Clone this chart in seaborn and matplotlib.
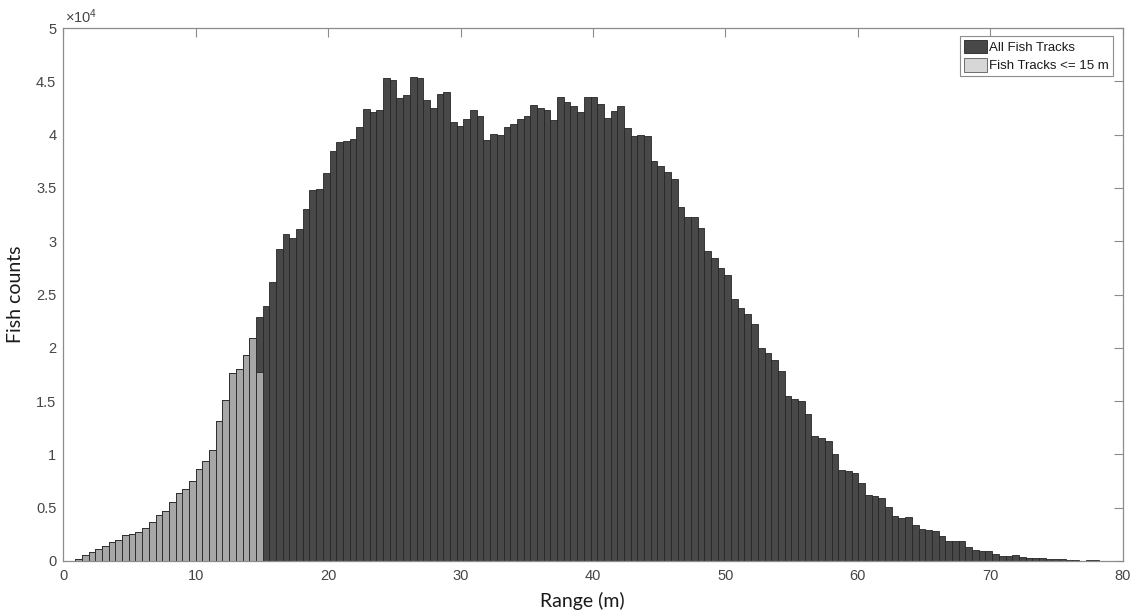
import numpy as np
import pandas as pd
import matplotlib
matplotlib.use("Agg")
import matplotlib.pyplot as plt
from matplotlib.patches import Patch
import seaborn as sns

# Histogram bins (range, m)
bin_start = 0.9
bin_width = 0.5054
n_bins = 153

# Counts per bin, all fish tracks
all_counts = [
    220, 530, 850, 1100, 1400, 1800, 2000, 2400, 2500, 2700,
    3100, 3700, 4300, 4700, 5500, 6400, 6800, 7500, 8600, 9400,
    10400, 13100, 15100, 17600, 18000, 19300, 20900, 22900,
    23900, 26200, 29300, 30700, 30300, 31100, 33000, 34800, 34900, 36400,
    38500, 39300, 39400, 39600, 40700, 42400, 42100, 42300, 45300, 45100,
    43400, 43700, 45400, 45300, 43200, 42500, 43800, 44000, 41200, 40800,
    41500, 42300, 41700, 39500, 40100, 40000,
    40700, 41000, 41500, 41700, 42800, 42500, 42300, 41400, 43500, 43100,
    42700, 42100, 43500, 43500, 42900, 41600, 42200, 42700, 40600, 39900,
    40000, 39900, 37500, 37100, 36500, 35800, 33200, 32300, 32300, 31200,
    29100, 28400, 27500,
    26800, 24600, 23700, 23200, 22200, 20000, 19500, 18900, 17800, 15500,
    15200, 15000, 13800, 11700, 11500, 11300, 10000, 8500, 8400, 8300,
    7300, 6200, 6100, 5900, 5100, 4200, 4000, 4100, 3400, 3000,
    2900, 2800, 2300, 1900, 1900, 1900, 1300, 1000, 900, 900,
    700, 500, 500, 600, 400, 300, 300, 300, 200, 150,
    150, 120, 60, 30, 90, 90,
]

# Counts per bin, tracks with range <= 15 m
near_counts = [
    220, 530, 850, 1100, 1400, 1800, 2000, 2400, 2500, 2700,
    3100, 3700, 4300, 4700, 5500, 6400, 6800, 7500, 8600, 9400,
    10400, 13100, 15100, 17600, 18000, 19300, 20900, 17700,
]

series_labels = ["All Fish Tracks", "Fish Tracks <= 15 m"]
x_ticks = list(range(0, 81, 10))
y_ticks = list(range(0, 50001, 5000))
y_tick_labels = ["0", "0.5", "1", "1.5", "2", "2.5", "3", "3.5", "4", "4.5", "5"]

edges = bin_start + bin_width * np.arange(n_bins + 1)
centers = (edges[:-1] + edges[1:]) / 2

all_df = pd.DataFrame({"range": centers, "count": all_counts})
near_df = pd.DataFrame({"range": centers[:len(near_counts)], "count": near_counts})

sns.set_style("white")
plt.rcParams["font.family"] = ["Liberation Sans", "DejaVu Sans"]
plt.rcParams["mathtext.default"] = "regular"

W, H = 1139, 614
fig = plt.figure(figsize=(W / 100, H / 100), dpi=100)
left, right, top, bottom = 63.3, 1122.7, 28.0, 561.0
ax = fig.add_axes([left / W, 1 - bottom / H, (right - left) / W, (bottom - top) / H])

dark_face = "#484848"
light_face = "#c9c9c9"
light_alpha = 0.74
edge_col = "#262626"

sns.histplot(data=all_df, x="range", weights="count", bins=list(edges), ax=ax,
             color=dark_face, alpha=1.0, edgecolor=edge_col, linewidth=0.6)
sns.histplot(data=near_df, x="range", weights="count",
             bins=list(edges[:len(near_counts) + 1]), ax=ax,
             color=light_face, alpha=light_alpha, edgecolor=edge_col, linewidth=0.6)

ax.set_xlim(0, 80)
ax.set_ylim(0, 50000)
ax.set_xticks(x_ticks)
ax.set_xticklabels([str(t) for t in x_ticks])
ax.set_yticks(y_ticks)
ax.set_yticklabels(y_tick_labels)

axis_col = "#8c8c8c"
for s in ax.spines.values():
    s.set_visible(True)
    s.set_color(axis_col)
    s.set_linewidth(0.9)
ax.tick_params(direction="in", top=True, right=True, length=6.5, width=0.8,
               color=axis_col, labelsize=10.5, labelcolor="#454545")
ax.tick_params(axis="x", pad=6)
ax.tick_params(axis="y", pad=5)

ax.text(0.0015, 1 + 2.5 / (bottom - top), r"$\times$10$^{4}$", transform=ax.transAxes,
        ha="left", va="bottom", fontsize=10.5, color="#454545")

label_font = dict(family=["Lato", "DejaVu Sans"], fontsize=14, color="#1a1a1a")
ax.set_xlabel("Range (m)", **label_font, labelpad=6)
ax.xaxis.set_label_coords(0.49, -0.058)
ax.set_ylabel("Fish counts", **label_font)
ax.yaxis.set_label_coords(-0.037, 0.5)

handles = [
    Patch(facecolor=dark_face, edgecolor=edge_col, linewidth=0.6),
    Patch(facecolor=light_face, alpha=light_alpha, edgecolor=edge_col, linewidth=0.6),
]
leg = ax.legend(handles, series_labels, loc="upper right",
                bbox_to_anchor=((1113 - left) / (right - left), (bottom - 36) / (bottom - top)),
                borderaxespad=0, fontsize=9.5, frameon=True, fancybox=False,
                framealpha=1, edgecolor=axis_col, handlelength=1.7, handleheight=1.2,
                handletextpad=0.2, labelspacing=0.3, borderpad=0.3)
leg.get_frame().set_linewidth(0.8)
for t in leg.get_texts():
    t.set_color("#1a1a1a")

fig.savefig("out.png", dpi=100)
